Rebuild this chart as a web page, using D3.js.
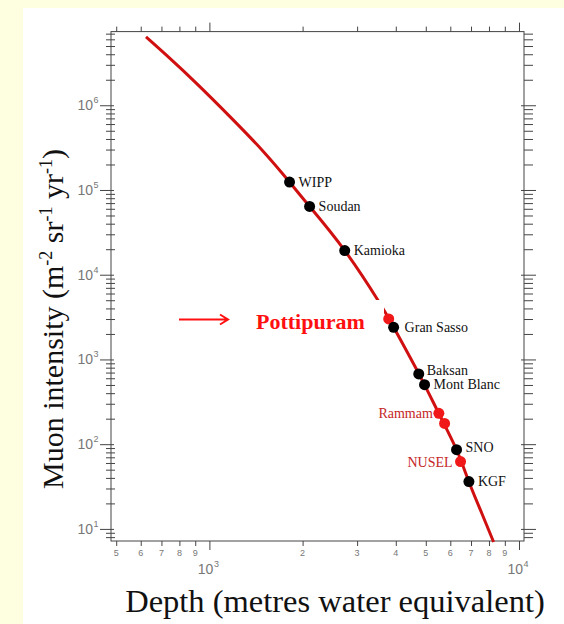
<!DOCTYPE html>
<html>
<head>
<meta charset="utf-8">
<script src="https://cdn.jsdelivr.net/npm/d3@7"></script>
<style>
  body { margin: 0; background: #fefee0; }
  svg { display: block; }
</style>
</head>
<body>
<svg id="chart"></svg>
<script>
// muon intensity vs depth curve
const curveDepth = [624, 750, 910, 1167, 1493, 1815, 2107, 2736, 3515, 3936, 4745, 5510, 6285, 6890, 7600, 8280];
const curveFlux = [6.4e6, 3.5e6, 1.8e6, 7.3e5, 2.85e5, 1.24e5, 6.4e4, 1.93e4, 4.9e3, 2.4e3, 6.8e2, 2.3e2, 86, 36, 15, 7.0];

// existing labs (black dots)
const labNames = ["WIPP", "Soudan", "Kamioka", "Gran Sasso", "Baksan", "Mont Blanc", "SNO", "KGF"];
const labDepth = [1815, 2107, 2736, 3936, 4745, 4954, 6285, 6890];
const labFlux = [1.24e5, 6.4e4, 1.93e4, 2393, 675, 503, 86, 36.2];

// indian sites (red dots)
const siteNames = ["Pottipuram", "Rammam", "", "NUSEL"];
const siteDepth = [3795, 5510, 5750, 6475];
const siteFlux = [3010, 231, 176, 62.4];

const xMinorTicks = [500, 600, 700, 800, 900, 2000, 3000, 4000, 5000, 6000, 7000, 8000, 9000];
const xMajorTicks = [1000, 10000];
const yMajorTicks = [10, 100, 1000, 10000, 100000, 1000000];

const width = 564, height = 624;
const svg = d3.select("#chart").attr("width", width).attr("height", height);

// white panel
svg.append("rect").attr("x", 23).attr("y", 8).attr("width", width - 23).attr("height", height - 8).attr("fill", "#fff");

const x = d3.scaleLog().domain([481, 10380]).range([111, 524]);
const y = d3.scaleLog().domain([7.2, 7.4e6]).range([541, 31.6]);

var yMinor = [];
yMajorTicks.concat([1]).forEach(d => {
    for (var k = 2; k <= 9; k++) {
        var v = d * k;
        if (v > y.domain()[0] && v < y.domain()[1]) yMinor.push(v);
    }
});

const axisColor = "#444";
function tickStyle(g) {
    g.select(".domain").remove();
    g.selectAll("line").attr("stroke", axisColor);
}

// frame
svg.append("rect")
    .attr("x", x.range()[0]).attr("y", y.range()[1])
    .attr("width", x.range()[1] - x.range()[0])
    .attr("height", y.range()[0] - y.range()[1])
    .attr("fill", "none").attr("stroke", axisColor);

// left
svg.append("g").attr("transform", `translate(${x.range()[0]},0)`)
    .call(d3.axisLeft(y).tickValues(yMajorTicks).tickSize(11).tickFormat("")).call(tickStyle)
    .selectAll("line").attr("x2", -11).attr("x1", 3);
svg.append("g").attr("transform", `translate(${x.range()[0]},0)`)
    .call(d3.axisLeft(y).tickValues(yMinor).tickSize(5).tickFormat("")).call(tickStyle)
    .selectAll("line").attr("x1", 4);
// right
svg.append("g").attr("transform", `translate(${x.range()[1]},0)`)
    .call(d3.axisRight(y).tickValues(yMajorTicks).tickSize(12).tickFormat("")).call(tickStyle)
    .selectAll("line").attr("x1", -3);
svg.append("g").attr("transform", `translate(${x.range()[1]},0)`)
    .call(d3.axisRight(y).tickValues(yMinor).tickSize(9).tickFormat("")).call(tickStyle);
// bottom
svg.append("g").attr("transform", `translate(0,${y.range()[0]})`)
    .call(d3.axisBottom(x).tickValues(xMajorTicks).tickSize(9).tickFormat("")).call(tickStyle);
svg.append("g").attr("transform", `translate(0,${y.range()[0]})`)
    .call(d3.axisBottom(x).tickValues(xMinorTicks).tickSize(5).tickFormat("")).call(tickStyle);
// top
svg.append("g").attr("transform", `translate(0,${y.range()[1]})`)
    .call(d3.axisTop(x).tickValues(xMajorTicks).tickSize(9).tickFormat("")).call(tickStyle);
svg.append("g").attr("transform", `translate(0,${y.range()[1]})`)
    .call(d3.axisTop(x).tickValues(xMinorTicks).tickSize(5).tickFormat("")).call(tickStyle);

// tick labels
const tickFont = "'Liberation Sans', Arial, sans-serif";
yMajorTicks.forEach(v => {
    svg.append("text")
        .attr("x", 93).attr("y", y(v) + 5)
        .attr("text-anchor", "end")
        .style("font", "14px " + tickFont).attr("fill", "#777")
        .text("10");
    svg.append("text")
        .attr("x", 93.5).attr("y", y(v) - 2)
        .style("font", "9px " + tickFont).attr("fill", "#777")
        .text(Math.round(Math.log10(v)));
});
xMinorTicks.forEach(v => {
    svg.append("text")
        .attr("x", x(v)).attr("y", 556)
        .attr("text-anchor", "middle")
        .style("font", "9px " + tickFont).attr("fill", "#777")
        .text(String(v).charAt(0));
});
xMajorTicks.forEach(v => {
    svg.append("text")
        .attr("x", x(v) + 4).attr("y", 574)
        .attr("text-anchor", "end")
        .style("font", "14px " + tickFont).attr("fill", "#777")
        .text("10");
    svg.append("text")
        .attr("x", x(v) + 4.5).attr("y", 567)
        .style("font", "9px " + tickFont).attr("fill", "#777")
        .text(Math.round(Math.log10(v)));
});

// curve
const line = d3.line()
    .x(d => x(d[0]))
    .y(d => y(d[1]))
    .curve(d3.curveNatural);
svg.append("path")
    .datum(curveDepth.map((d, i) => [d, curveFlux[i]]))
    .attr("d", line)
    .attr("fill", "none")
    .attr("stroke", "#d01010")
    .attr("stroke-width", 3);

const serif = "'Liberation Serif', 'Times New Roman', serif";

// Pottipuram label with white box and arrow
svg.append("rect").attr("x", 248).attr("y", 300).attr("width", 136).attr("height", 36).attr("fill", "#fff");
svg.append("text")
    .attr("x", 256).attr("y", 329)
    .style("font", "bold 22px " + serif)
    .attr("fill", "#ff1010")
    .text(siteNames[0]);
svg.append("path")
    .attr("d", "M179,319.5 L228,319.5 M220,314.5 L228,319.5 L220,324.5")
    .attr("fill", "none").attr("stroke", "#ff1010").attr("stroke-width", 2);

// red dots
svg.selectAll(".site")
    .data(siteDepth.map((d, i) => ({ name: siteNames[i], depth: d, flux: siteFlux[i] })))
    .enter().append("circle")
    .attr("cx", d => x(d.depth))
    .attr("cy", d => y(d.flux))
    .attr("r", 5.5)
    .attr("fill", "#f01818");

// black dots
svg.selectAll(".lab")
    .data(labNames.map((n, i) => ({ name: n, depth: labDepth[i], flux: labFlux[i] })))
    .enter().append("circle")
    .attr("cx", d => x(d.depth))
    .attr("cy", d => y(d.flux))
    .attr("r", 5.5)
    .attr("fill", "#000");

var labOffsets = { "WIPP": [9, 0], "Soudan": [9, 0], "Kamioka": [9, 0], "Gran Sasso": [11, 0],
    "Baksan": [8, -3], "Mont Blanc": [9, 0], "SNO": [9, -2], "KGF": [9, 0] };
labNames.forEach((n, i) => {
    svg.append("text")
        .attr("x", x(labDepth[i]) + labOffsets[n][0])
        .attr("y", y(labFlux[i]) + labOffsets[n][1] + 4.5)
        .style("font", "14px " + serif)
        .attr("fill", "#111")
        .text(n);
});

var siteOffsets = { "Rammam": [-6, 0], "NUSEL": [-8, 1] };
siteNames.forEach((n, i) => {
    if (!siteOffsets[n]) return;
    svg.append("text")
        .attr("x", x(siteDepth[i]) + siteOffsets[n][0])
        .attr("y", y(siteFlux[i]) + siteOffsets[n][1] + 4.5)
        .attr("text-anchor", "end")
        .style("font", "14px " + serif)
        .attr("fill", "#c42626")
        .text(n);
});

// axis titles
var yt = svg.append("text")
    .attr("transform", "translate(63,319) rotate(-90)")
    .attr("text-anchor", "middle")
    .style("font", "30px " + serif)
    .attr("fill", "#111");
yt.append("tspan").text("Muon intensity (m");
yt.append("tspan").attr("dy", -11).style("font-size", "18px").text("-2");
yt.append("tspan").attr("dy", 11).text(" sr");
yt.append("tspan").attr("dy", -11).style("font-size", "18px").text("-1");
yt.append("tspan").attr("dy", 11).text(" yr");
yt.append("tspan").attr("dy", -11).style("font-size", "18px").text("-1");
yt.append("tspan").attr("dy", 11).text(")");

svg.append("text")
    .attr("x", 335).attr("y", 612)
    .attr("text-anchor", "middle")
    .style("font", "32.5px " + serif)
    .attr("fill", "#111")
    .text("Depth (metres water equivalent)");
</script>
</body>
</html>
